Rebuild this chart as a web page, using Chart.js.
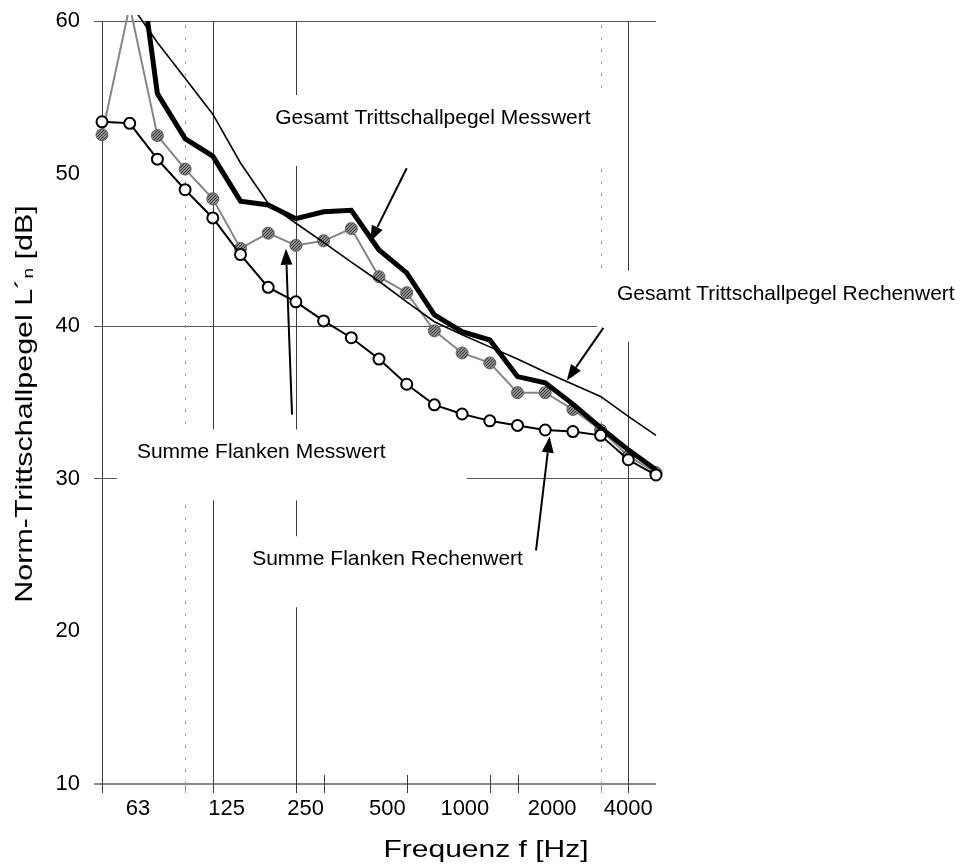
<!DOCTYPE html>
<html lang="de">
<head>
<meta charset="utf-8">
<title>Norm-Trittschallpegel</title>
<script src="https://cdn.jsdelivr.net/npm/chart.js@4.4.1/dist/chart.umd.min.js"></script>
<style>
  html, body { margin: 0; padding: 0; background: #fff; }
  canvas { display: block; }
</style>
</head>
<body>
<canvas id="diagram" width="966" height="867"></canvas>
<script>
// Terzbaender 50 Hz ... 5000 Hz, auf der x-Achse als Index 0..20
const bands = [50, 63, 80, 100, 125, 160, 200, 250, 315, 400, 500, 630, 800, 1000, 1250, 1600, 2000, 2500, 3150, 4000, 5000];

// Pegel in dB je Terzband
const flankenRechen = [53.4, 53.3, 50.95, 48.95, 47.1, 44.7, 42.55, 41.6, 40.35, 39.25, 37.85, 36.2, 34.85, 34.25, 33.8, 33.5, 33.2, 33.1, 32.85, 31.25, 30.25];
const flankenMess = [52.55, 61.0, 52.5, 50.3, 48.35, 45.1, 46.1, 45.3, 45.6, 46.4, 43.25, 42.2, 39.7, 38.25, 37.6, 35.65, 35.65, 34.55, 33.2, 31.5, 30.4];
const gesamtMess = [null, 68.7, 55.25, 52.3, 51.15, 48.2, 47.95, 47.05, 47.5, 47.6, 45.0, 43.5, 40.75, 39.65, 39.1, 36.7, 36.3, 34.9, 33.35, 31.9, 30.6];
const gesamtRechen = [null, 61.2, 58.6, 56.25, 53.9, 50.7, 48.05, 46.75, 45.5, 44.2, 42.95, 41.6, 40.3, 39.45, 38.65, 37.85, 37.0, 36.2, 35.4, 34.1, 32.85];

// Achsbeschriftung
const xTickLabels = ['63', '125', '250', '500', '1000', '2000', '4000'];
const xTickPos = [1.3, 4.5, 7.35, 10.3, 13.1, 16.25, 19.0];
const yTicks = [10, 20, 30, 40, 50, 60];
const yGrid = [10, 30, 40, 60];

// senkrechte Linien (Bandindex)
const gridSolid = [0, 4, 7, 19];
const gridDotted = [3, 18];
const gridTick = [8, 11, 14, 15];

// Beschriftungen mit Pfeil [von x, von y, nach x, nach y]
const notes = [
    { text: 'Gesamt Trittschallpegel Messwert', x: 6.25, y: 53.65, arrow: [11.0, 50.36, 9.68, 45.54] },
    { text: 'Gesamt Trittschallpegel Rechenwert', x: 18.59, y: 42.13, arrow: [18.1, 39.89, 16.78, 36.44] },
    { text: 'Summe Flanken Messwert', x: 1.26, y: 31.73, arrow: [6.86, 34.21, 6.64, 45.08] },
    { text: 'Summe Flanken Rechenwert', x: 5.42, y: 24.73, arrow: [15.67, 25.31, 16.16, 32.77] }
];

const FONT = '"Liberation Sans", Arial, sans-serif';

window.onload = init;

function init() {
    const ctx = document.getElementById('diagram').getContext('2d');
    createChart(ctx);
}

function toPoints(values) {
    return values.map((v, i) => ({ x: i, y: v }));
}

function hatchPattern(ctx) {
    const c = document.createElement('canvas');
    c.width = c.height = 3;
    const g = c.getContext('2d');
    g.fillStyle = '#8e8e8e';
    g.fillRect(0, 0, 3, 3);
    g.strokeStyle = '#3a3a3a';
    g.lineWidth = 1;
    g.beginPath();
    g.moveTo(0, 3);
    g.lineTo(3, 0);
    g.stroke();
    return ctx.createPattern(c, 'repeat');
}

function drawArrow(ctx, x0, y0, x1, y1) {
    const a = Math.atan2(y1 - y0, x1 - x0);
    const len = 16, half = 6;
    const bx = x1 - len * Math.cos(a), by = y1 - len * Math.sin(a);
    ctx.beginPath();
    ctx.moveTo(x0, y0);
    ctx.lineTo(bx, by);
    ctx.stroke();
    ctx.beginPath();
    ctx.moveTo(x1, y1);
    ctx.lineTo(bx + half * Math.sin(a), by - half * Math.cos(a));
    ctx.lineTo(bx - half * Math.sin(a), by + half * Math.cos(a));
    ctx.closePath();
    ctx.fill();
}

// Text aus Teilen (Index tiefgestellt), in Laufrichtung gestreckt
function drawStretched(ctx, parts, stretch) {
    let total = 0;
    parts.forEach(p => {
        ctx.font = p.size + 'px ' + FONT;
        p.w = ctx.measureText(p.t).width;
        total += p.w;
    });
    ctx.scale(stretch, 1);
    let x = -total / 2;
    parts.forEach(p => {
        ctx.font = p.size + 'px ' + FONT;
        ctx.fillText(p.t, x, p.dy || 0);
        x += p.w;
    });
}

const decor = {
    id: 'decor',
    beforeDatasetsDraw(chart) {
        const { ctx, scales: { x, y } } = chart;
        const top = y.getPixelForValue(60);
        const bottom = y.getPixelForValue(10);
        ctx.save();
        ctx.lineWidth = 1;
        ctx.strokeStyle = '#3a3a3a';
        const vline = (i, y0, y1) => {
            const px = Math.round(x.getPixelForValue(i)) + 0.5;
            ctx.beginPath();
            ctx.moveTo(px, y0);
            ctx.lineTo(px, y1);
            ctx.stroke();
        };
        gridSolid.forEach(i => vline(i, top, bottom + 9));
        gridTick.forEach(i => vline(i, bottom - 9, bottom + 9));
        ctx.strokeStyle = '#9a9a9a';
        ctx.setLineDash([3, 9]);
        gridDotted.forEach(i => vline(i, top + 4, bottom));
        ctx.setLineDash([]);
        gridDotted.forEach(i => vline(i, bottom - 2, bottom + 9));

        // weisse Flaechen hinter den Beschriftungen
        ctx.fillStyle = '#fff';
        notes.forEach(n => {
            const tx = x.getPixelForValue(n.x), ty = y.getPixelForValue(n.y);
            ctx.fillRect(tx - 20, ty - 23, 350, 71);
        });
        ctx.restore();
    },
    afterDatasetsDraw(chart) {
        const { ctx, scales: { x, y } } = chart;
        ctx.save();
        ctx.fillStyle = '#000';
        ctx.strokeStyle = '#000';
        ctx.lineWidth = 2;
        ctx.font = '21px ' + FONT;
        ctx.textBaseline = 'middle';
        notes.forEach(n => {
            ctx.fillText(n.text, x.getPixelForValue(n.x), y.getPixelForValue(n.y));
            const [ax0, ay0, ax1, ay1] = n.arrow;
            drawArrow(ctx, x.getPixelForValue(ax0), y.getPixelForValue(ay0),
                x.getPixelForValue(ax1), y.getPixelForValue(ay1));
        });
        ctx.restore();
    },
    afterDraw(chart) {
        const { ctx, chartArea } = chart;
        ctx.save();
        ctx.fillStyle = '#000';
        ctx.textBaseline = 'alphabetic';

        // x-Achsentitel
        ctx.save();
        ctx.translate((chartArea.left + chartArea.right) / 2 + 107, 857);
        drawStretched(ctx, [{ t: 'Frequenz f [Hz]', size: 24 }], 1.25);
        ctx.restore();

        // y-Achsentitel
        ctx.save();
        ctx.translate(32, 404);
        ctx.rotate(-Math.PI / 2);
        drawStretched(ctx, [
            { t: 'Norm-Trittschallpegel L\u00b4', size: 24 },
            { t: 'n', size: 15, dy: 1 },
            { t: ' [dB]', size: 24 }
        ], 1.27);
        ctx.restore();

        ctx.restore();
    }
};

function createChart(ctx) {
    const hatch = hatchPattern(ctx);
    const markerClip = { left: 10, right: 10, top: 0, bottom: 0 };

    new Chart(ctx, {
        type: 'line',
        data: {
            datasets: [
                {
                    label: 'Summe Flanken Rechenwert',
                    data: toPoints(flankenRechen),
                    borderColor: '#000',
                    borderWidth: 2,
                    pointRadius: 5.5,
                    pointBackgroundColor: '#fff',
                    pointBorderColor: '#000',
                    pointBorderWidth: 2,
                    clip: markerClip,
                    order: 1
                },
                {
                    label: 'Gesamt Trittschallpegel Messwert',
                    data: toPoints(gesamtMess),
                    borderColor: '#000',
                    borderWidth: 5,
                    pointRadius: 0,
                    clip: { left: 0, right: 4, top: -6, bottom: 0 },
                    order: 2
                },
                {
                    label: 'Gesamt Trittschallpegel Rechenwert',
                    data: toPoints(gesamtRechen),
                    borderColor: '#000',
                    borderWidth: 1.6,
                    pointRadius: 0,
                    clip: { left: 0, right: 2, top: 0, bottom: 0 },
                    order: 3
                },
                {
                    label: 'Summe Flanken Messwert',
                    data: toPoints(flankenMess),
                    borderColor: '#858585',
                    borderWidth: 2,
                    pointRadius: 6,
                    pointBackgroundColor: hatch,
                    pointBorderColor: '#5e5e5e',
                    pointBorderWidth: 1,
                    clip: markerClip,
                    order: 4
                }
            ]
        },
        options: {
            responsive: false,
            animation: false,
            events: [],
            layout: { padding: { top: 15, right: 310, left: 0, bottom: 0 } },
            plugins: {
                legend: { display: false },
                tooltip: { enabled: false }
            },
            scales: {
                x: {
                    type: 'linear',
                    min: 0,
                    max: bands.length - 1,
                    grid: { display: false, drawTicks: false },
                    border: { display: false },
                    afterBuildTicks: s => { s.ticks = xTickPos.map(v => ({ value: v })); },
                    afterFit: s => { s.height = 83; s.paddingLeft = 0; s.paddingRight = 0; },
                    ticks: {
                        autoSkip: false,
                        maxRotation: 0,
                        padding: 12,
                        color: '#000',
                        font: { family: FONT, size: 22 },
                        callback: (v, i) => xTickLabels[i]
                    }
                },
                y: {
                    min: 10,
                    max: 60.4,
                    border: { display: false },
                    afterBuildTicks: s => { s.ticks = yTicks.map(v => ({ value: v })); },
                    afterFit: s => { s.width = 102; s.paddingTop = 0; s.paddingBottom = 0; },
                    grid: {
                        color: c => yGrid.includes(c.tick.value) ? (c.tick.value === 10 ? '#8a8a8a' : '#555') : 'rgba(0,0,0,0)',
                        lineWidth: c => c.tick.value === 10 ? 2 : 1,
                        tickLength: 8
                    },
                    ticks: {
                        padding: 14,
                        color: '#000',
                        font: { family: FONT, size: 22 }
                    }
                }
            }
        },
        plugins: [decor]
    });
}
</script>
</body>
</html>
